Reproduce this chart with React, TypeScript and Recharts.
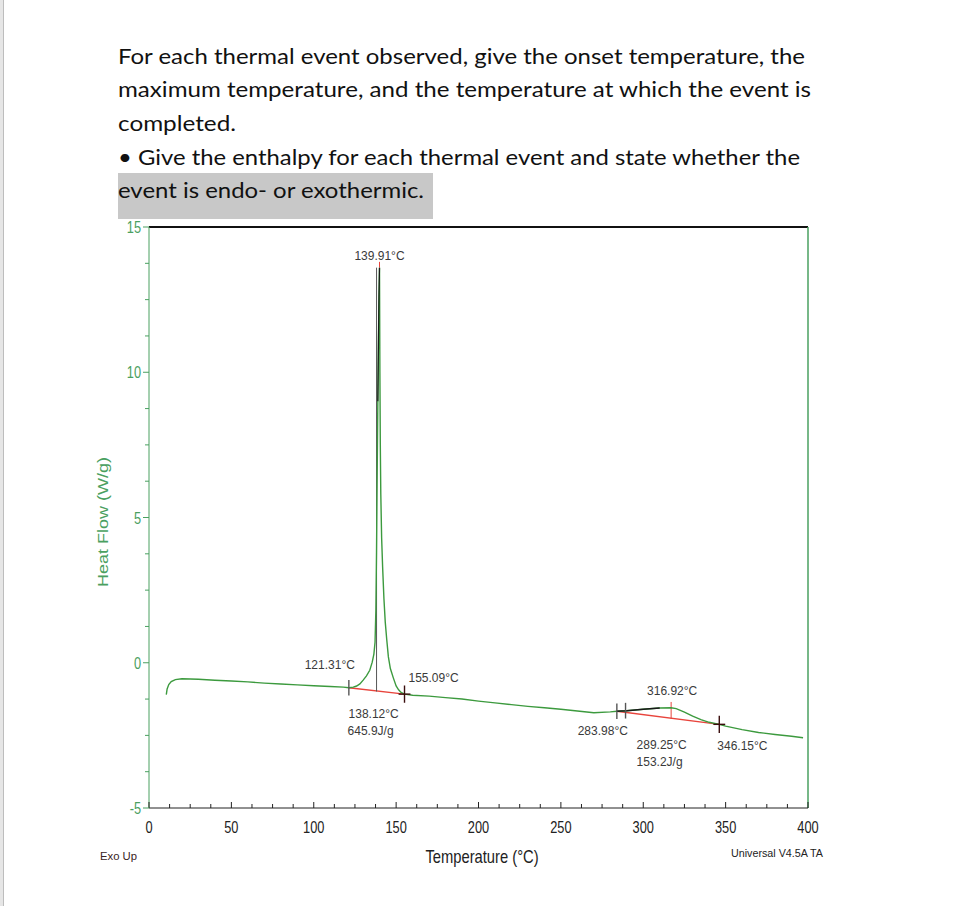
import React from 'react';
import {
  ComposedChart,
  Line,
  ReferenceDot,
  ReferenceLine,
  XAxis,
  YAxis
} from 'recharts';

const questionLines = [
  'For each thermal event observed, give the onset temperature, the',
  'maximum temperature, and the temperature at which the event is',
  'completed.',
  '\u2022 Give the enthalpy for each thermal event and state whether the',
  'event is endo- or exothermic.'
];

// DSC trace (temperature in °C, heat flow in W/g)
const temperature = [
  10.5, 11, 12, 13.5, 16, 20, 30, 40, 50, 60, 70, 80, 90, 100, 110, 118,
  121.31, 124, 126, 128, 130, 132, 134, 135.5, 136.5, 137.2, 137.7, 138.1,
  138.5, 138.9, 139.3, 139.6, 139.91, 140.15, 140.4, 140.7, 141.2, 141.8,
  142.6, 143.4, 144.3, 145.3, 146.5, 148.3, 150, 151.5, 153, 155.09, 160,
  170, 180, 190, 200, 210, 220, 230, 240, 250, 260, 270, 280, 283.98, 290,
  300, 310, 316.92, 320, 325, 330, 335, 340, 346.15, 350, 360, 370, 380, 390,
  397
];
const heatFlow = [
  -1.1, -0.9, -0.75, -0.65, -0.58, -0.55, -0.57, -0.6, -0.63, -0.66, -0.7,
  -0.73, -0.76, -0.79, -0.82, -0.84, -0.86, -0.84, -0.8, -0.73, -0.6, -0.45,
  -0.26, 0.02, 0.3, 0.7, 1.8, 3.8, 6.5, 9.0, 11.2, 12.6, 13.6, 10.0, 7.5, 5.8,
  4.3, 3.3, 2.2, 1.4, 0.8, 0.2, -0.2, -0.52, -0.8, -0.93, -1.02, -1.08, -1.12,
  -1.15, -1.2, -1.25, -1.32, -1.38, -1.44, -1.5, -1.55, -1.6, -1.66, -1.72,
  -1.69, -1.67, -1.65, -1.6, -1.56, -1.55, -1.58, -1.7, -1.84, -1.96, -2.05,
  -2.12, -2.18, -2.3, -2.4, -2.47, -2.53, -2.58
];

const xMajorTicks = [0, 50, 100, 150, 200, 250, 300, 350, 400];
const xMinorTicks = [
  12.5, 25, 37.5, 62.5, 75, 87.5, 112.5, 125, 137.5, 162.5, 175, 187.5, 212.5,
  225, 237.5, 262.5, 275, 287.5, 312.5, 325, 337.5, 362.5, 375, 387.5
];
const yMajorTicks = [-5, 0, 5, 10, 15];
const yMinorTicks = [
  -3.75, -2.5, -1.25, 1.25, 2.5, 3.75, 6.25, 7.5, 8.75, 11.25, 12.5, 13.75
];

// analysis marks: onset / end points and integration baselines
const crossT = [121.31, 155.09, 283.98, 289.25, 346.15];
const crossHF = [-0.86, -1.08, -1.67, -1.65, -2.12];
const baselineStartT = [121.31, 283.98];
const baselineStartHF = [-0.86, -1.67];
const baselineEndT = [155.09, 346.15];
const baselineEndHF = [-1.08, -2.12];

const labelText = [
  '139.91°C', '121.31°C', '155.09°C', '138.12°C', '645.9J/g',
  '316.92°C', '283.98°C', '289.25°C', '153.2J/g', '346.15°C'
];
const labelT = [139.91, 121.31, 155.09, 138.12, 138.12, 316.92, 283.98, 289.25, 289.25, 346.15];
const labelHF = [13.6, -0.86, -1.08, -0.97, -0.97, -1.35, -1.67, -1.65, -1.65, -2.12];

const GREEN = '#3c9a3e';
const AXIS_GREEN = '#4aa060';
const TEXT = '#3a3a3a';

const curve = temperature.map((t, i) => ({ t, hf: heatFlow[i] }));
const peakEdge = curve.filter((p) => p.t >= 138.9 && p.t <= 139.91);
const secondEdge = curve.filter((p) => p.t >= 283.98 && p.t <= 312);

// pixel offsets of each label from its anchor
const labelLayout = [
  { dx: 0, dy: -8, anchor: 'middle' },
  { dx: 6, dy: -19, anchor: 'end' },
  { dx: 4, dy: -12, anchor: 'start' },
  { dx: -28, dy: 27, anchor: 'start' },
  { dx: -29, dy: 44, anchor: 'start' },
  { dx: 1, dy: -7, anchor: 'middle' },
  { dx: 11, dy: 24, anchor: 'end' },
  { dx: 11, dy: 38, anchor: 'start' },
  { dx: 11, dy: 55, anchor: 'start' },
  { dx: -2, dy: 26, anchor: 'start' }
];

const renderXTick = (props: any) => {
  const { x, y, payload } = props;
  const major = xMajorTicks.includes(payload.value);
  return (
    <g>
      <line x1={x} x2={x} y1={y} y2={y - (major ? 6 : 4)} stroke="#222" />
      {major && (
        <g transform={`translate(${x},${y + 25}) scale(0.8,1)`}>
          <text textAnchor="middle" fontSize={16} fill="#222" fontFamily="Liberation Sans, Arial">
            {payload.value}
          </text>
        </g>
      )}
    </g>
  );
};

const renderYTick = (props: any) => {
  const { x, y, payload } = props;
  const major = yMajorTicks.includes(payload.value);
  return (
    <g>
      <line x1={x} x2={x - (major ? 6 : 4)} y1={y} y2={y} stroke={AXIS_GREEN} />
      {major && (
        <g transform={`translate(${x - 8},${y + 6}) scale(0.8,1)`}>
          <text textAnchor="end" fontSize={16} fill={AXIS_GREEN} fontFamily="Liberation Sans, Arial">
            {payload.value}
          </text>
        </g>
      )}
    </g>
  );
};

const vHalf = 0.27;
const hHalf = 3.6;

export default function App() {
  return (
    <div
      style={{
        position: 'fixed',
        left: 0,
        top: 0,
        width: 953,
        height: 906,
        background: '#fff',
        overflow: 'hidden'
      }}
    >
      <div
        style={{
          position: 'absolute',
          left: 0,
          top: 0,
          width: 3,
          height: 906,
          background: '#e6e6e6',
          borderRight: '1px solid #bdbdbd'
        }}
      />
      <ComposedChart
        width={953}
        height={906}
        margin={{ top: 227, right: 145, bottom: 58, left: 89 }}
      >
        <XAxis
          dataKey="t"
          type="number"
          domain={[0, 400]}
          ticks={[...xMajorTicks, ...xMinorTicks].sort((a, b) => a - b)}
          interval={0}
          tickSize={0}
          tickMargin={0}
          tick={renderXTick}
          stroke="#222"
          height={40}
          allowDataOverflow
        />
        <YAxis
          type="number"
          domain={[-5, 15]}
          ticks={[...yMajorTicks, ...yMinorTicks].sort((a, b) => a - b)}
          interval={0}
          tickSize={0}
          tickMargin={0}
          tick={renderYTick}
          stroke={AXIS_GREEN}
          width={60}
          allowDataOverflow
        />
        <ReferenceLine y={15} stroke="#111" strokeWidth={2} />
        <ReferenceLine x={400} stroke={AXIS_GREEN} strokeWidth={1.5} />

        {baselineStartT.map((t, i) => (
          <ReferenceLine
            key={`base-${i}`}
            segment={[
              { x: t, y: baselineStartHF[i] },
              { x: baselineEndT[i], y: baselineEndHF[i] }
            ]}
            stroke="#e8443c"
            strokeWidth={1.3}
          />
        ))}
        <ReferenceLine
          segment={[{ x: 138.12, y: -0.99 }, { x: 138.12, y: 13.6 }]}
          stroke="#555"
          strokeWidth={1}
        />
        <ReferenceLine
          segment={[{ x: 139.91, y: 13.6 }, { x: 139.91, y: 13.8 }]}
          stroke="#e8443c"
          strokeWidth={1}
        />
        <ReferenceLine
          segment={[{ x: 316.92, y: -1.93 }, { x: 316.92, y: -1.35 }]}
          stroke="#e8443c"
          strokeWidth={1}
        />

        <Line
          data={curve}
          dataKey="hf"
          type="linear"
          stroke={GREEN}
          strokeWidth={1.4}
          dot={false}
          isAnimationActive={false}
        />
        <Line
          data={peakEdge}
          dataKey="hf"
          type="linear"
          stroke="#1a1a1a"
          strokeWidth={1.2}
          dot={false}
          isAnimationActive={false}
        />
        <Line
          data={secondEdge}
          dataKey="hf"
          type="linear"
          stroke="#1a1a1a"
          strokeWidth={1.4}
          dot={false}
          isAnimationActive={false}
        />

        {crossT.map((t, i) => {
          const full = i === 1 || i === 4;
          const color = full ? '#3a0d0d' : '#555';
          return (
            <ReferenceLine
              key={`cv-${i}`}
              segment={[
                { x: t, y: crossHF[i] - vHalf * (full ? 1.1 : 1) },
                { x: t, y: crossHF[i] + vHalf * (full ? 1.1 : 1) }
              ]}
              stroke={color}
              strokeWidth={1.4}
            />
          );
        })}
        {crossT
          .map((t, i) => ({ t, hf: crossHF[i], i }))
          .filter((p) => p.i === 1 || p.i === 4)
          .map((p) => (
            <ReferenceLine
              key={`ch-${p.i}`}
              segment={[
                { x: p.t - hHalf, y: p.hf },
                { x: p.t + hHalf, y: p.hf }
              ]}
              stroke="#3a0d0d"
              strokeWidth={1.4}
            />
          ))}

        {labelText.map((txt, i) => (
          <ReferenceDot
            key={`lab-${i}`}
            x={labelT[i]}
            y={labelHF[i]}
            r={0}
            fill="none"
            stroke="none"
            label={(p: any) => {
              const vb = p.viewBox || {};
              const l = labelLayout[i];
              return (
                <text
                  x={(vb.x ?? 0) + l.dx}
                  y={(vb.y ?? 0) + l.dy}
                  textAnchor={l.anchor}
                  fontSize={12}
                  fill={TEXT}
                  fontFamily="Liberation Sans, Arial"
                >
                  {txt}
                </text>
              );
            }}
          />
        ))}
      </ComposedChart>

      <svg
        width={953}
        height={906}
        style={{ position: 'absolute', left: 0, top: 0, pointerEvents: 'none' }}
      >
        <rect x={118} y={173} width={315} height={46} fill="#c8c8c8" />
        {questionLines.map((line, i) => (
          <text
            key={i}
            x={118}
            y={[64, 97, 131, 165, 198][i]}
            fontSize={22}
            fill="#111"
            fontFamily="Lato, 'Open Sans', sans-serif"
            textLength={[687, 693, 118, 682, 306][i]}
            lengthAdjust="spacingAndGlyphs"
          >
            {line}
          </text>
        ))}
        <g transform="translate(108,522) scale(0.8,1) rotate(-90)">
          <text textAnchor="middle" fontSize={18} fill={AXIS_GREEN} fontFamily="Liberation Sans, Arial">
            Heat Flow (W/g)
          </text>
        </g>
        <g transform="translate(482,863) scale(0.82,1)">
          <text textAnchor="middle" fontSize={18} fill="#222" fontFamily="Liberation Sans, Arial">
            Temperature (°C)
          </text>
        </g>
        <text x={100} y={860} fontSize={11} fill="#3a2424" fontFamily="Liberation Sans, Arial" textLength={37} lengthAdjust="spacingAndGlyphs">
          Exo Up
        </text>
        <text x={731} y={857} fontSize={10.5} fill="#222" fontFamily="Liberation Sans, Arial" textLength={92} lengthAdjust="spacingAndGlyphs">
          Universal V4.5A TA
        </text>
      </svg>
    </div>
  );
}
